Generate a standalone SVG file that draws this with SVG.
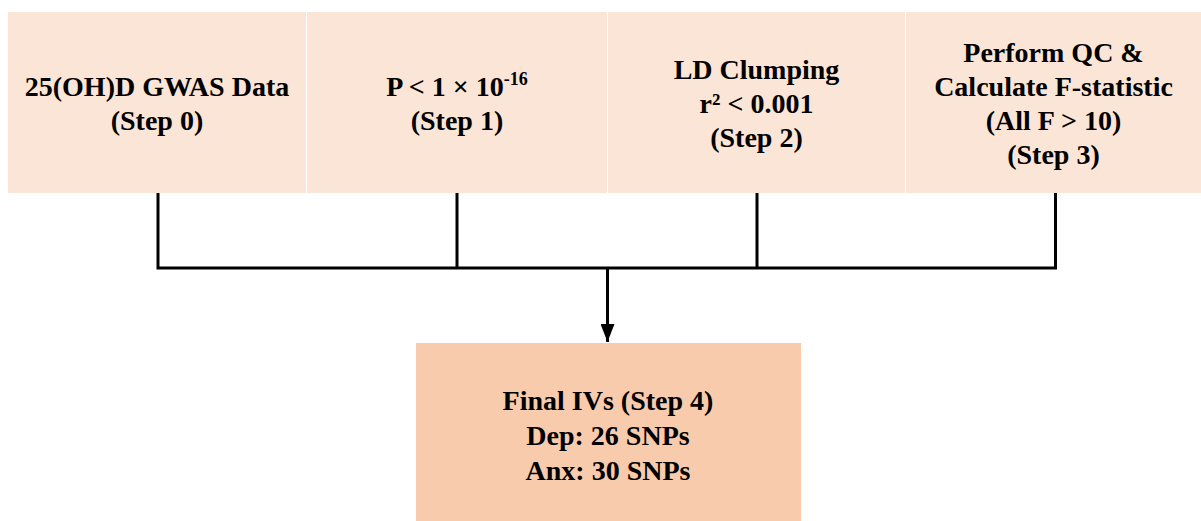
<svg xmlns="http://www.w3.org/2000/svg" width="1201" height="521" viewBox="0 0 1201 521">
<style>
.top{fill:#FBE5D6}
.bot{fill:#F8CBAD}
.t{font-family:"Liberation Serif","Times New Roman",Tinos,serif;font-weight:bold;font-size:28px;fill:#000;text-anchor:middle}
.ln{stroke:#000;stroke-width:3;fill:none}
</style>
<defs>
<marker id="arr" markerWidth="18" markerHeight="14" refX="18" refY="7" orient="auto" markerUnits="userSpaceOnUse" viewBox="0 0 18 14">
<path d="M0,0 L18,7 L0,14 Z" fill="#000"/>
</marker>
</defs>
<rect width="1201" height="521" fill="#fff"/>
<g id="step0">
<rect class="top" x="8" y="12" width="298" height="181"/>
<text class="t" x="157" y="96">25(OH)D GWAS Data</text>
<text class="t" x="157" y="130">(Step 0)</text>
</g>
<g id="step1">
<rect class="top" x="307" y="12" width="300" height="181"/>
<text class="t" x="457" y="96">P &lt; 1 × 10<tspan font-size="18" dy="-11">-16</tspan></text>
<text class="t" x="457" y="130">(Step 1)</text>
</g>
<g id="step2">
<rect class="top" x="608" y="12" width="297" height="181"/>
<text class="t" x="756.5" y="79">LD Clumping</text>
<text class="t" x="756.5" y="113">r² &lt; 0.001</text>
<text class="t" x="756.5" y="147">(Step 2)</text>
</g>
<g id="step3">
<rect class="top" x="906" y="12" width="295" height="181"/>
<text class="t" x="1053.5" y="62">Perform QC &amp;</text>
<text class="t" x="1053.5" y="96">Calculate F-statistic</text>
<text class="t" x="1053.5" y="130">(All F &gt; 10)</text>
<text class="t" x="1053.5" y="164">(Step 3)</text>
</g>
<g id="final">
<rect class="bot" x="416" y="343" width="385" height="178"/>
<text class="t" x="608" y="410">Final IVs (Step 4)</text>
<text class="t" x="608" y="445">Dep: 26 SNPs</text>
<text class="t" x="608" y="480">Anx: 30 SNPs</text>
</g>
<g id="connectors">
<path class="ln" d="M158,193 V268 M457,193 V268 M757,193 V268 M1055.5,193 V268 M156.5,268 H1057"/>
<path class="ln" d="M607.5,268 V342" marker-end="url(#arr)"/>
</g>
</svg>
